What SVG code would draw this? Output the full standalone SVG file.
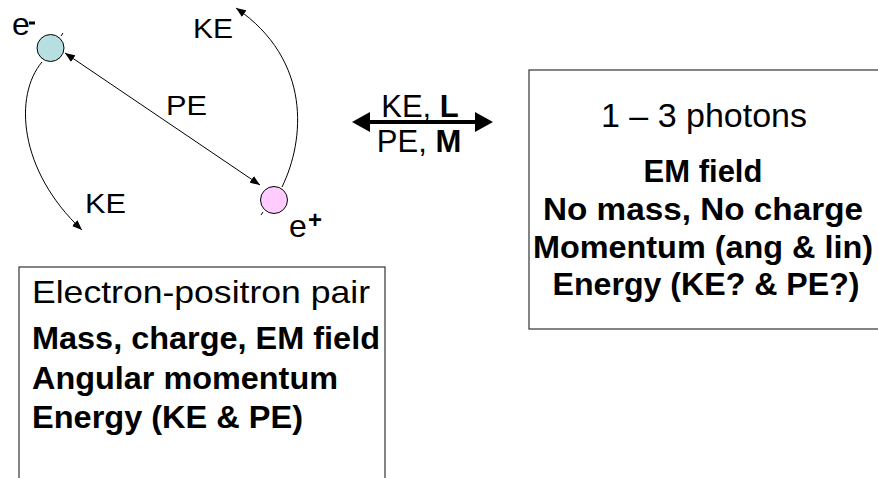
<svg xmlns="http://www.w3.org/2000/svg" width="878" height="478" viewBox="0 0 878 478">
<defs>
<marker id="ah" viewBox="0 0 10 8" markerWidth="10" markerHeight="8" refX="10" refY="4" orient="auto-start-reverse" markerUnits="userSpaceOnUse">
<path d="M0,0 L10,4 L0,8 z" fill="#000"/>
</marker>
</defs>
<style>
text{font-family:"Liberation Sans",Arial,sans-serif;fill:#000}
.b{font-weight:bold}
.conn{fill:none;stroke:#000;stroke-width:1}
.box{fill:#fff;stroke:#333;stroke-width:1.2}
.p{stroke:#000;stroke-width:1}
</style>
<rect width="878" height="478" fill="#fff"/>
<g id="connectors">
<path class="conn" d="M42,62 C14,95 18,170 82,230" marker-end="url(#ah)"/>
<path class="conn" d="M282,187 C305,140 312,60 236,8" marker-end="url(#ah)"/>
<line class="conn" x1="65" y1="53" x2="260" y2="185" marker-start="url(#ah)" marker-end="url(#ah)"/>
<line class="conn" x1="61" y1="36" x2="63" y2="33"/>
<line class="conn" x1="263" y1="212" x2="261" y2="215"/>
<text x="166" y="115" font-size="28" textLength="41" lengthAdjust="spacingAndGlyphs">PE</text>
<text x="193" y="38" font-size="28" textLength="40" lengthAdjust="spacingAndGlyphs">KE</text>
<text x="85" y="213" font-size="28" textLength="41" lengthAdjust="spacingAndGlyphs">KE</text>
</g>
<g id="exchange">
<line x1="366" y1="122" x2="479" y2="122" stroke="#000" stroke-width="4"/>
<polygon points="352,122 370,112 370,132" fill="#000"/>
<polygon points="493,122 475,112 475,132" fill="#000"/>
<text x="420" y="117" font-size="31" text-anchor="middle">KE, <tspan class="b">L</tspan></text>
<text x="419" y="152" font-size="31" text-anchor="middle">PE, <tspan class="b">M</tspan></text>
</g>
<g id="electron">
<circle class="p" cx="50.5" cy="48" r="13.5" fill="#B7DEE0"/>
<text x="12" y="35" font-size="32">e</text>
<rect x="29" y="21.5" width="6" height="3" fill="#000"/>
</g>
<g id="positron">
<circle class="p" cx="274" cy="200" r="13.5" fill="#FFCCFF"/>
<text x="289" y="237" font-size="32">e</text>
<text x="308" y="228" font-size="24" class="b">+</text>
</g>
<g id="pair-box">
<rect class="box" x="19" y="267" width="366" height="230"/>
<text x="32" y="303" font-size="32" textLength="338" lengthAdjust="spacingAndGlyphs">Electron-positron pair</text>
<text class="b" x="32" y="349" font-size="31" textLength="348" lengthAdjust="spacingAndGlyphs">Mass, charge, EM field</text>
<text class="b" x="32" y="389" font-size="31" textLength="306" lengthAdjust="spacingAndGlyphs">Angular momentum</text>
<text class="b" x="32" y="428" font-size="31" textLength="271" lengthAdjust="spacingAndGlyphs">Energy (KE &amp; PE)</text>
</g>
<g id="photon-box">
<rect class="box" x="529" y="70" width="360" height="259"/>
<text x="704" y="127" font-size="34" text-anchor="middle">1 – 3 photons</text>
<text class="b" x="703" y="182" font-size="31" text-anchor="middle">EM field</text>
<text class="b" x="703" y="220" font-size="31" text-anchor="middle" textLength="320" lengthAdjust="spacingAndGlyphs">No mass, No charge</text>
<text class="b" x="703" y="258" font-size="31" text-anchor="middle" textLength="340" lengthAdjust="spacingAndGlyphs">Momentum (ang &amp; lin)</text>
<text class="b" x="706" y="295" font-size="31" text-anchor="middle" textLength="307" lengthAdjust="spacingAndGlyphs">Energy (KE? &amp; PE?)</text>
</g>
</svg>
